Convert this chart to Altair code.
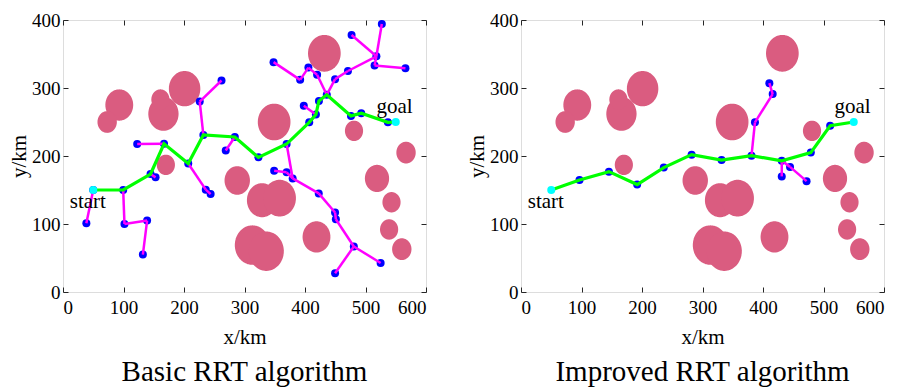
import altair as alt
import pandas as pd
import numpy as np

# ---------------- data ----------------
obs_x = [93, 73, 166, 161, 201, 432, 349, 481, 567, 170, 288, 329, 358, 313, 336, 419, 519, 543, 539, 560]
obs_y = [275, 250, 262, 283, 299, 351, 250, 237, 205, 187, 164, 135, 138, 69, 60, 81, 167, 132, 92, 63]
obs_r = [23, 16, 25, 15, 26, 27, 27, 15, 16, 15, 21, 25, 27, 29, 29, 23, 20, 15, 15, 16]

start_xy = [50, 150]
goal_xy = [550, 250]

# Basic RRT: final path
b_path_x = [50, 99.5, 144.7, 167, 207, 232, 284, 323, 369.6, 407, 418, 423, 436, 476, 493, 537, 550]
b_path_y = [150, 150, 173.5, 218, 189, 231, 228, 198, 217.6, 249.5, 261, 281, 290, 259, 263, 249.5, 250]
# Basic RRT: tree edges (x1, y1) -> (x2, y2)
b_e_x1 = [50, 99.5, 101.6, 139, 144.7, 207, 236, 122.6, 262, 226, 269, 348, 392, 405.6, 420, 436, 449.7, 471,
          518, 518, 518, 515, 398, 369.6, 349, 369.6, 379.6, 422.7, 449.7, 451, 480.7, 480.7]
b_e_y1 = [150, 150, 100, 105, 173.5, 189, 150.5, 217.6, 311, 280, 208, 338, 312, 330, 319.5, 290, 313, 325,
          346.6, 346.6, 346.6, 333, 274, 217.6, 178.4, 176, 167, 145, 117, 107, 67, 67]
b_e_x2 = [38.6, 101.6, 139, 132, 153, 236, 244, 167, 226, 232, 284, 392, 405.6, 420, 436, 449.7, 471, 518,
          527, 477, 515, 566, 418, 379.6, 369.6, 379.6, 422.7, 449.7, 451, 480.7, 525, 449.7]
b_e_y2 = [101, 100, 105, 55, 168.6, 150.5, 144, 218, 280, 231, 228, 312, 330, 319.5, 290, 313, 325, 346.6,
          394, 378, 333, 329, 261, 167, 176, 167, 145, 117, 107, 67, 42.6, 27.5]

# Improved RRT: final path
i_path_x = [50, 96.7, 145.3, 192, 236, 282, 331.5, 381, 431, 479, 511, 550]
i_path_y = [150, 164.7, 177, 158, 183, 202, 194, 200.5, 193, 205, 244.5, 250]
# Improved RRT: tree edges
i_e_x1 = [381, 386.7, 416, 431, 431, 444.7]
i_e_y1 = [200.5, 249.5, 291, 193, 193, 184]
i_e_x2 = [386.7, 416, 410.5, 431, 444.7, 472]
i_e_y2 = [249.5, 291, 307, 170, 184, 163]

x_ticks = [0, 100, 200, 300, 400, 500, 600]
y_ticks = [0, 100, 200, 300, 400]

label_text = ["start", "goal"]
label_x = [41, 548]
label_y = [133, 272]

titles = ["Basic RRT algorithm", "Improved RRT algorithm"]

# ---------------- styling ----------------
SERIF = "Times New Roman"
AX = "#262626"
OBS = "#DA5C80"
W, H = 363, 272

# obstacle outlines (circles in data units) built from centre / radius
rows = []
t = np.linspace(0, np.pi, 73)
for k, (cx, cy, r) in enumerate(zip(obs_x, obs_y, obs_r)):
    for tt in t:
        rows.append({"id": k, "x": cx + r * np.cos(tt),
                     "ylo": cy - r * np.sin(tt), "yhi": cy + r * np.sin(tt)})
obs_df = pd.DataFrame(rows)

xs = alt.Scale(domain=[0, 600], nice=False, zero=False)
ys = alt.Scale(domain=[0, 400], nice=False, zero=False)


def axis_main(orient, title):
    bottom = orient == "bottom"
    return alt.Axis(orient=orient, values=x_ticks if bottom else y_ticks,
                    offset=-5, tickSize=5, tickColor=AX, tickWidth=1, domain=False, grid=False,
                    labelPadding=6 if bottom else 3, labelFont=SERIF, labelFontSize=19,
                    labelColor="black",
                    title=title, titleFont=SERIF, titleFontSize=21, titleFontWeight="normal",
                    titleColor="black", titlePadding=9 if bottom else 2)


def axis_ticks(orient):
    return alt.Axis(orient=orient, values=x_ticks if orient == "top" else y_ticks,
                    offset=-5, tickSize=5, tickColor=AX, tickWidth=1, domain=False, grid=False,
                    labels=False, title=None)


def panel(px, py, ex1, ey1, ex2, ey2, title):
    obstacles = alt.Chart(obs_df).mark_area(color=OBS, opacity=1).encode(
        x=alt.X("x:Q", scale=xs, axis=axis_main("bottom", "x/km")),
        y=alt.Y("ylo:Q", scale=ys, axis=axis_main("left", "y/km")),
        y2="yhi:Q",
        detail="id:N",
    )
    edf = pd.DataFrame({"x1": ex1, "y1": ey1, "x2": ex2, "y2": ey2})
    edf["eid"] = range(len(edf))
    long = pd.concat([
        pd.DataFrame({"eid": edf["eid"], "x": edf["x1"], "y": edf["y1"], "o": 0}),
        pd.DataFrame({"eid": edf["eid"], "x": edf["x2"], "y": edf["y2"], "o": 1}),
    ])
    nodes = pd.concat([
        long[["x", "y"]],
        pd.DataFrame({"x": px[1:-1], "y": py[1:-1]}),
    ]).drop_duplicates()
    node_layer = alt.Chart(nodes).mark_circle(color="#0000FF", opacity=1, size=64).encode(
        x=alt.X("x:Q", scale=xs, axis=None), y=alt.Y("y:Q", scale=ys, axis=None))
    edge_layer = alt.Chart(long).mark_line(color="#FF00FF", strokeWidth=2.5).encode(
        x=alt.X("x:Q", scale=xs, axis=None), y=alt.Y("y:Q", scale=ys, axis=None),
        detail="eid:N", order="o:Q")
    pdf = pd.DataFrame({"x": px, "y": py, "o": range(len(px))})
    path_layer = alt.Chart(pdf).mark_line(color="#00FF00", strokeWidth=3.2).encode(
        x=alt.X("x:Q", scale=xs, axis=axis_ticks("top")),
        y=alt.Y("y:Q", scale=ys, axis=axis_ticks("right")),
        order="o:Q")
    sg = pd.DataFrame({"x": [start_xy[0], goal_xy[0]], "y": [start_xy[1], goal_xy[1]]})
    sg_layer = alt.Chart(sg).mark_circle(color="#00FFFF", opacity=1, size=64).encode(
        x=alt.X("x:Q", scale=xs, axis=None), y=alt.Y("y:Q", scale=ys, axis=None))
    ldf = pd.DataFrame({"t": label_text, "x": label_x, "y": label_y})
    txt = alt.Chart(ldf).mark_text(font=SERIF, fontSize=21, color="black",
                                   baseline="middle", align="center").encode(
        x=alt.X("x:Q", scale=xs, axis=None), y=alt.Y("y:Q", scale=ys, axis=None), text="t:N")
    return alt.layer(obstacles, node_layer, edge_layer, path_layer, sg_layer, txt).resolve_axis(
        x="independent", y="independent"
    ).properties(
        width=W, height=H,
        title=alt.TitleParams(title, orient="bottom", font=SERIF, fontSize=29,
                              fontWeight="normal", color="black", offset=11, anchor="middle"),
    )


left = panel(b_path_x, b_path_y, b_e_x1, b_e_y1, b_e_x2, b_e_y2, titles[0])
right = panel(i_path_x, i_path_y, i_e_x1, i_e_y1, i_e_x2, i_e_y2, titles[1])

chart = alt.hconcat(left, right, spacing=39).properties(
    padding={"left": 0, "top": 2, "right": 0, "bottom": 0}
).configure_view(stroke=AX, strokeWidth=1.5).configure(background="white")

chart.save("out.html", embed_options={"renderer": "svg", "actions": False})
